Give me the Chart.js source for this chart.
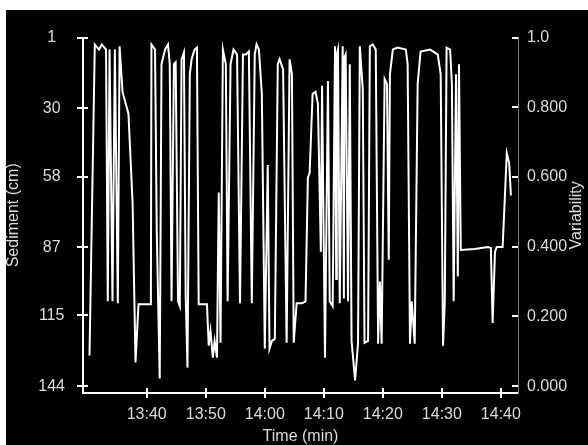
<!DOCTYPE html>
<html>
<head>
<meta charset="utf-8">
<script src="https://cdn.jsdelivr.net/npm/chart.js@4/dist/chart.umd.min.js"></script>
<style>
  html, body { margin: 0; background: #fff; }
  #wrap { position: absolute; left: 6px; top: 10px; width: 582px; height: 435px; background: #000; }
</style>
</head>
<body>
<div id="wrap"><canvas id="chart"></canvas></div>
<script>
// sampled probe trace: minutes after 13:00 and sediment depth (cm)
const timeMin = [
  30.3, 31.2, 31.9, 32.4, 33.1, 33.4, 33.7, 34.2, 34.6, 35.1, 35.4, 35.9, 36.9, 37.6, 38.1, 38.6, 40.7, 40.8,
  41.4, 41.7, 42.2, 42.5, 43.1, 43.6, 43.9, 44.2, 44.6, 44.9, 45.3, 45.6, 45.9, 46.3, 46.6, 46.9, 47.3, 47.6,
  48.1, 48.5, 48.8, 50.2, 50.5, 50.8, 51.2, 51.5, 51.9, 52.2, 52.5, 52.9,
  53.4, 53.7, 54.2, 54.7, 55.3, 55.8, 56.3, 56.8, 57.3, 57.8, 58.3, 58.6, 59.0, 59.5, 60.0, 60.5, 60.8, 61.2,
  61.7, 62.2, 62.5, 63.1, 63.7, 64.2, 64.6, 64.9, 65.4, 66.3, 66.9,
  67.3, 67.6, 68.1, 68.6, 69.0, 69.5, 69.7, 70.2, 70.7, 71.0, 71.5, 71.9, 72.1, 72.2, 72.4, 72.7, 73.2, 73.4,
  73.5, 73.7, 74.1, 74.4, 74.7, 75.3, 75.8, 76.1, 76.6, 76.9, 77.5, 77.8, 78.3, 78.8,
  79.2, 79.5, 79.8, 80.3, 80.7, 81.0, 81.2, 81.7, 82.5, 83.9, 84.2, 84.6, 84.9, 85.4, 85.9, 86.4, 88.0, 89.3,
  89.8, 90.2, 90.5, 90.8,
  91.4, 91.7, 92.0, 92.4, 92.7, 92.9, 93.2, 95.6, 97.8, 98.3, 98.6, 99.0, 99.3, 100.3, 101.0, 101.4, 101.7
];
const sediment = [
  131.4, 3.8, 5.9, 3.8, 5.9, 109.2, 5.9, 109.2, 5.9, 110.0, 4.6, 23.3, 32.2, 68.7, 134.3, 110.4, 110.4, 3.8,
  5.9, 80.8, 140.8, 11.9, 5.9, 3.8, 11.9, 109.2, 11.9, 11.1, 109.2, 111.2, 9.9, 7.1, 107.1, 136.3, 16.0, 9.9,
  5.9, 5.1, 110.4, 110.4, 127.4, 121.3, 132.3, 125.4, 132.3, 64.6, 126.2, 5.9,
  11.9, 109.2, 11.9, 5.9, 7.9, 110.0, 7.9, 7.9, 6.7, 110.0, 7.9, 3.8, 5.9, 24.1, 128.6, 53.3, 128.6, 125.4,
  124.6, 11.9, 9.9, 14.0, 126.2, 9.9, 16.0, 126.2, 110.0, 110.0, 109.2,
  58.5, 56.5, 24.1, 23.3, 28.1, 88.9, 20.8, 132.3, 18.8, 109.2, 111.2, 4.6, 100.0, 8.0, 5.9, 110.0, 4.6, 108.0,
  9.0, 7.9, 109.2, 11.9,
  125.4, 141.6, 126.2, 4.6, 22.1, 126.2, 125.4, 4.6, 3.8, 5.9,
  126.6, 101.1, 126.6, 18.0, 20.0, 92.1, 16.0, 5.9, 5.1, 5.9, 11.9, 126.6, 109.2, 126.6, 20.0, 6.7, 5.9, 7.9,
  16.0, 127.4, 109.2, 5.1,
  5.9, 20.0, 109.2, 16.0, 99.0, 11.9, 88.1, 87.7, 86.9, 87.3, 118.1, 88.9, 86.9, 86.9, 48.4, 52.4, 65.8
];

const sedTicks = [1, 30, 58, 87, 115, 144];
const varTicks = [0, 0.2, 0.4, 0.6, 0.8, 1.0];
const varLabels = ['0.000', '0.200', '0.400', '0.600', '0.800', '1.0'];
const timeTicks = [40, 50, 60, 70, 80, 90, 100];
const timeLabels = ['13:40', '13:50', '14:00', '14:10', '14:20', '14:30', '14:40'];

const FONT = '"Liberation Sans", Arial, sans-serif';
const TXT = '#dcdcdc';
Chart.defaults.font.family = FONT;
Chart.defaults.font.size = 16;
Chart.defaults.color = TXT;

// short white tick marks across the axes + right-hand title reading upwards
const tickMarks = {
  id: 'tickMarks',
  afterDraw(chart) {
    const { ctx, scales: { x, y, y2 } } = chart;
    ctx.save();
    ctx.strokeStyle = '#fff';
    ctx.lineWidth = 2;
    ctx.beginPath();
    sedTicks.forEach(v => {
      const p = Math.round(y.getPixelForValue(v));
      ctx.moveTo(y.right - 6, p); ctx.lineTo(y.right + 5, p);
    });
    timeTicks.forEach(v => {
      const p = Math.round(x.getPixelForValue(v));
      ctx.moveTo(p, x.top - 5); ctx.lineTo(p, x.top + 5);
    });
    varTicks.forEach(v => {
      const p = Math.round(y2.getPixelForValue(v));
      ctx.moveTo(y2.left - 6, p); ctx.lineTo(y2.left, p);
    });
    ctx.stroke();

    ctx.translate(y2.right - 11, (y2.top + y2.bottom) / 2);
    ctx.rotate(-Math.PI / 2);
    ctx.fillStyle = TXT;
    ctx.font = '16px ' + FONT;
    ctx.textAlign = 'center';
    ctx.textBaseline = 'middle';
    ctx.fillText('Variability', 0, 0);
    ctx.restore();
  }
};

new Chart(document.getElementById('chart'), {
  type: 'line',
  data: {
    datasets: [{
      data: timeMin.map((t, i) => ({ x: t, y: sediment[i] })),
      borderColor: '#fff',
      borderWidth: 2,
      pointRadius: 0,
      tension: 0,
      xAxisID: 'x',
      yAxisID: 'y'
    }]
  },
  options: {
    responsive: true,
    maintainAspectRatio: false,
    animation: false,
    devicePixelRatio: 1,
    layout: { padding: { top: 23 } },
    plugins: { legend: { display: false }, tooltip: { enabled: false } },
    scales: {
      x: {
        type: 'linear', position: 'bottom', min: 29.2, max: 102.9,
        afterBuildTicks: s => { s.ticks = timeTicks.map(v => ({ value: v })); },
        afterFit: s => { s.height = 52; },
        ticks: { padding: 12, maxRotation: 0, autoSkip: false, callback: (v, i) => timeLabels[i] },
        grid: { display: false, drawTicks: false },
        border: { color: '#fff', width: 2 },
        title: { display: true, text: 'Time (min)', font: { size: 16, lineHeight: 1 }, padding: 0 }
      },
      y: {
        type: 'linear', position: 'left', reverse: true, min: 1, max: 146.8,
        afterBuildTicks: s => { s.ticks = sedTicks.map(v => ({ value: v })); },
        afterFit: s => { s.width = 77; },
        ticks: { padding: 18, crossAlign: 'center', callback: v => String(v) },
        grid: { display: false, drawTicks: false },
        border: { color: '#fff', width: 2 },
        title: { display: true, text: 'Sediment (cm)', font: { size: 16, lineHeight: 1 }, padding: 0 }
      },
      y2: {
        type: 'linear', position: 'right', min: -0.0198, max: 1,
        afterBuildTicks: s => { s.ticks = varTicks.map(v => ({ value: v })); },
        afterFit: s => { s.width = 70; },
        ticks: { padding: 9, callback: (v, i) => varLabels[i] },
        grid: { display: false, drawTicks: false },
        border: { color: '#777', width: 1, dash: [1, 2] }
      }
    }
  },
  plugins: [tickMarks]
});
</script>
</body>
</html>
